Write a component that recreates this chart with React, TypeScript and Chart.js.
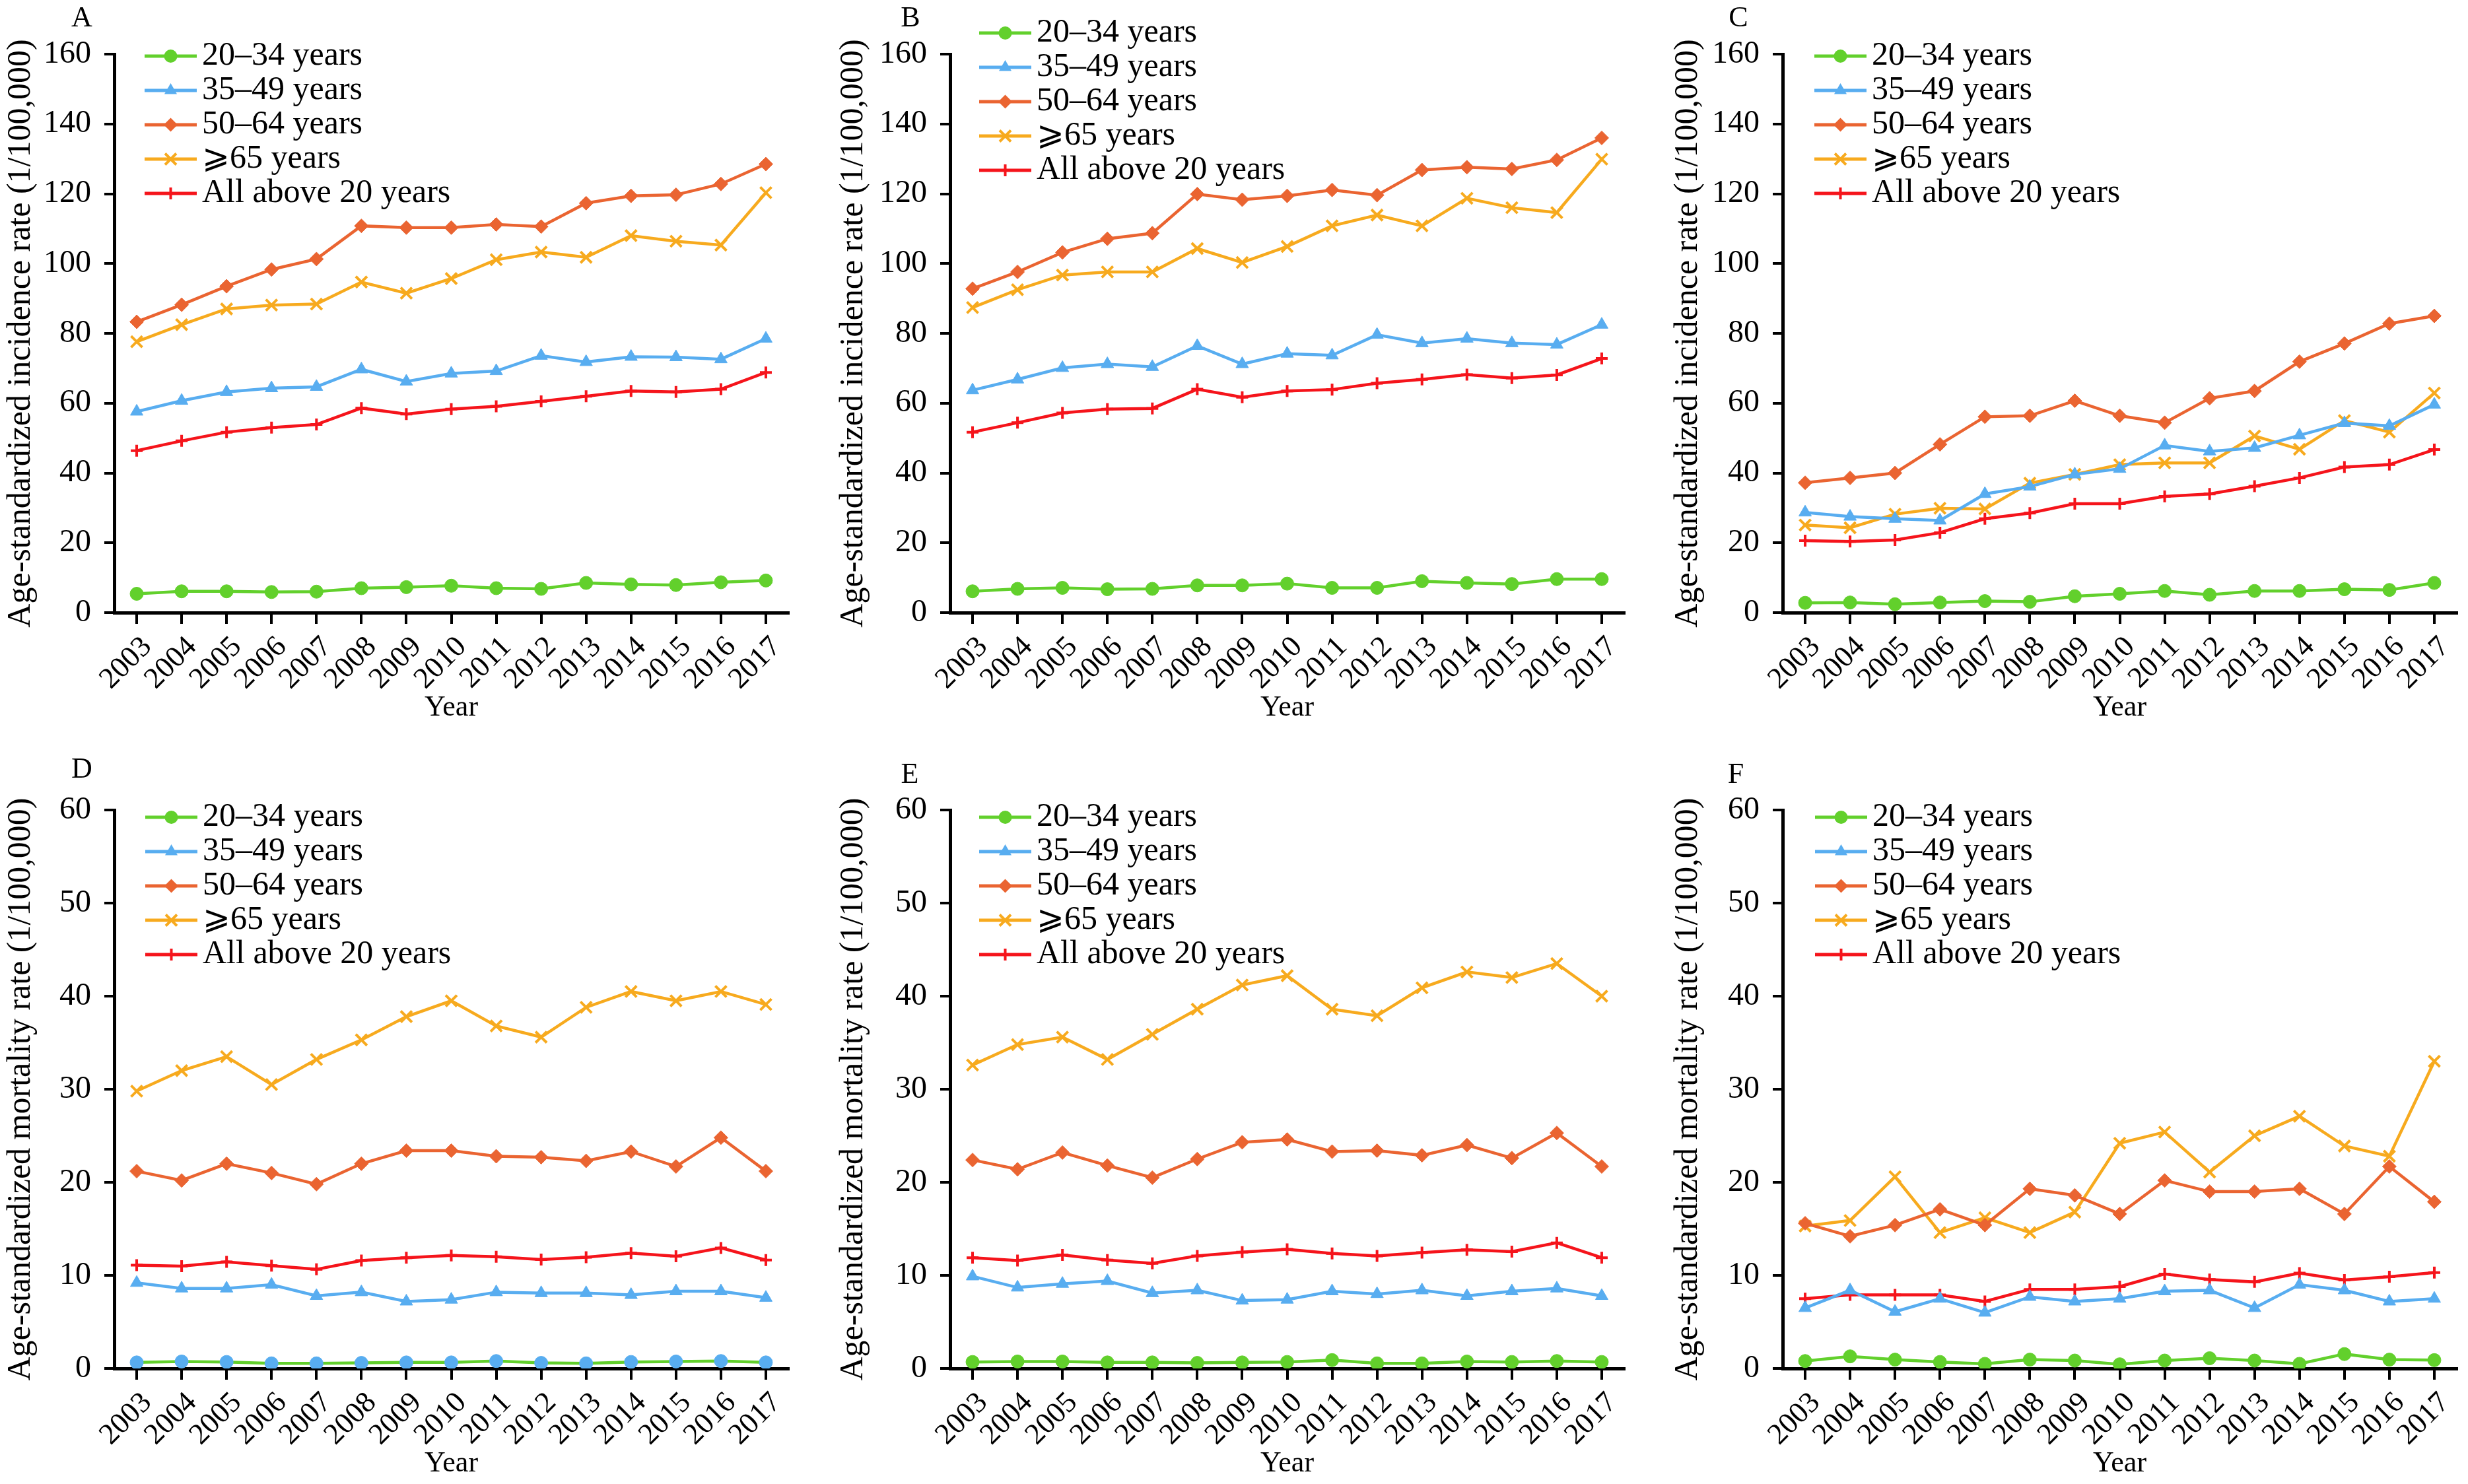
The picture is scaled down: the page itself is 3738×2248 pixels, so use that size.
import React, { useEffect, useRef } from 'react';
import { Chart, registerables } from 'chart.js';

Chart.register(...registerables);

const FONT = "'Liberation Serif', 'Times New Roman', serif";

const years = ['2003', '2004', '2005', '2006', '2007', '2008', '2009', '2010', '2011', '2012', '2013', '2014', '2015', '2016', '2017'];
const seriesNames = ['20–34 years', '35–49 years', '50–64 years', '⩾65 years', 'All above 20 years'];
const incidenceTitle = 'Age-standardized incidence rate (1/100,000)';
const mortalityTitle = 'Age-standardized mortality rate (1/100,000)';
const xTitle = 'Year';

// Panel A – incidence
const A_20_34 = [5.4, 6.1, 6.1, 5.9, 6.0, 7.0, 7.3, 7.7, 7.0, 6.8, 8.5, 8.1, 7.9, 8.7, 9.2];
const A_35_49 = [57.6, 60.7, 63.2, 64.3, 64.7, 69.7, 66.2, 68.5, 69.2, 73.6, 71.8, 73.3, 73.2, 72.6, 78.5];
const A_50_64 = [83.3, 88.2, 93.5, 98.3, 101.3, 110.8, 110.3, 110.3, 111.2, 110.6, 117.3, 119.4, 119.7, 122.8, 128.5];
const A_65up = [77.6, 82.5, 87.0, 88.1, 88.4, 94.7, 91.5, 95.7, 101.1, 103.3, 101.8, 108.0, 106.4, 105.3, 120.3];
const A_all = [46.4, 49.2, 51.7, 53.0, 53.9, 58.6, 56.9, 58.3, 59.1, 60.5, 62.0, 63.5, 63.2, 64.0, 68.8];

// Panel B – incidence
const B_20_34 = [6.1, 6.8, 7.1, 6.7, 6.8, 7.8, 7.8, 8.3, 7.1, 7.1, 9.0, 8.5, 8.2, 9.6, 9.6];
const B_35_49 = [63.7, 66.8, 70.1, 71.2, 70.4, 76.4, 71.2, 74.2, 73.7, 79.6, 77.2, 78.5, 77.2, 76.8, 82.5];
const B_50_64 = [92.8, 97.6, 103.2, 107.1, 108.7, 119.9, 118.3, 119.4, 121.1, 119.6, 126.8, 127.6, 127.1, 129.7, 136.0];
const B_65up = [87.4, 92.5, 96.7, 97.6, 97.6, 104.3, 100.3, 104.9, 110.8, 113.9, 110.8, 118.7, 116.0, 114.6, 129.9];
const B_all = [51.7, 54.4, 57.2, 58.3, 58.5, 64.0, 61.7, 63.5, 63.9, 65.7, 66.8, 68.2, 67.2, 68.1, 72.8];

// Panel C – incidence
const C_20_34 = [2.8, 2.9, 2.4, 2.9, 3.3, 3.1, 4.7, 5.4, 6.2, 5.1, 6.2, 6.2, 6.7, 6.5, 8.5];
const C_35_49 = [28.7, 27.5, 26.9, 26.4, 34.0, 36.1, 39.6, 41.2, 47.9, 46.2, 47.2, 50.8, 54.3, 53.5, 59.6];
const C_50_64 = [37.2, 38.6, 40.0, 48.2, 56.1, 56.4, 60.7, 56.4, 54.4, 61.4, 63.5, 71.9, 77.1, 82.8, 85.0];
const C_65up = [25.1, 24.3, 28.2, 29.9, 29.7, 37.1, 39.6, 42.4, 42.9, 42.9, 50.6, 46.8, 55.0, 51.7, 62.9];
const C_all = [20.6, 20.4, 20.8, 22.9, 26.9, 28.5, 31.2, 31.2, 33.3, 34.0, 36.2, 38.6, 41.7, 42.4, 46.7];

// Panel D – mortality
const D_20_34 = [0.65, 0.75, 0.7, 0.55, 0.55, 0.6, 0.65, 0.65, 0.8, 0.6, 0.55, 0.7, 0.75, 0.8, 0.65];
const D_35_49 = [9.2, 8.6, 8.6, 9.0, 7.8, 8.2, 7.2, 7.4, 8.2, 8.1, 8.1, 7.9, 8.3, 8.3, 7.6];
const D_50_64 = [21.2, 20.2, 22.0, 21.0, 19.8, 22.0, 23.4, 23.4, 22.8, 22.7, 22.3, 23.3, 21.7, 24.8, 21.2];
const D_65up = [29.8, 32.0, 33.5, 30.5, 33.2, 35.3, 37.8, 39.5, 36.8, 35.6, 38.8, 40.5, 39.5, 40.5, 39.1];
const D_all = [11.1, 11.0, 11.45, 11.05, 10.65, 11.6, 11.9, 12.15, 12.0, 11.7, 11.95, 12.4, 12.05, 12.95, 11.65];

// Panel E – mortality
const E_20_34 = [0.7, 0.75, 0.75, 0.65, 0.65, 0.6, 0.65, 0.7, 0.9, 0.55, 0.55, 0.75, 0.7, 0.8, 0.7];
const E_35_49 = [9.9, 8.7, 9.1, 9.4, 8.1, 8.4, 7.3, 7.4, 8.3, 8.0, 8.4, 7.8, 8.3, 8.6, 7.8];
const E_50_64 = [22.4, 21.4, 23.2, 21.8, 20.5, 22.5, 24.3, 24.6, 23.3, 23.4, 22.9, 24.0, 22.6, 25.3, 21.7];
const E_65up = [32.6, 34.8, 35.6, 33.2, 35.9, 38.6, 41.2, 42.2, 38.6, 37.9, 40.9, 42.6, 42.0, 43.5, 40.0];
const E_all = [11.9, 11.6, 12.2, 11.65, 11.3, 12.1, 12.5, 12.8, 12.35, 12.1, 12.45, 12.75, 12.55, 13.5, 11.9];

// Panel F – mortality
const F_20_34 = [0.8, 1.3, 0.95, 0.7, 0.5, 0.95, 0.85, 0.45, 0.85, 1.1, 0.85, 0.5, 1.55, 0.95, 0.9];
const F_35_49 = [6.5, 8.4, 6.1, 7.5, 6.0, 7.7, 7.2, 7.5, 8.3, 8.4, 6.5, 9.0, 8.4, 7.2, 7.5];
const F_50_64 = [15.6, 14.2, 15.4, 17.1, 15.4, 19.3, 18.6, 16.6, 20.2, 19.0, 19.0, 19.3, 16.6, 21.7, 17.9];
const F_65up = [15.3, 15.9, 20.6, 14.6, 16.2, 14.6, 16.8, 24.2, 25.4, 21.1, 25.0, 27.1, 23.9, 22.8, 33.0];
const F_all = [7.5, 7.9, 7.9, 7.9, 7.2, 8.5, 8.5, 8.8, 10.15, 9.55, 9.3, 10.25, 9.5, 9.85, 10.3];

const COLORS = ['#62d02c', '#58adf0', '#ea6431', '#f7aa1e', '#f5141b'];
const STYLES = ['circle', 'triangle', 'rectRot', 'crossRot', 'cross'];
const RADII = [10, 11, 10.5, 12, 9];

type Panel = {
  letter: string;
  left: number;
  top: number;
  max: number;
  step: number;
  yTitle: string;
  series: number[][];
  legendX: number;
  legendY: number;
  letterX: number;
  letterY: number;
  titlePad: number;
  youngMarker?: string;
};

const CANVAS_W = 1210;
const CANVAS_H = 1103;

const panels: Panel[] = [
  { letter: 'A', left: 0, top: 0, max: 160, step: 20, yTitle: incidenceTitle, series: [A_20_34, A_35_49, A_50_64, A_65up, A_all], legendX: 217, legendY: 58, letterX: 124, letterY: 28, titlePad: 7 },
  { letter: 'B', left: 1266, top: 0, max: 160, step: 20, yTitle: incidenceTitle, series: [B_20_34, B_35_49, B_50_64, B_65up, B_all], legendX: 215, legendY: 23, letterX: 113, letterY: 28, titlePad: 2 },
  { letter: 'C', left: 2527, top: 0, max: 160, step: 20, yTitle: incidenceTitle, series: [C_20_34, C_35_49, C_50_64, C_65up, C_all], legendX: 219, legendY: 58, letterX: 106, letterY: 28, titlePad: 5 },
  { letter: 'D', left: 0, top: 1145, max: 60, step: 10, yTitle: mortalityTitle, series: [D_20_34, D_35_49, D_50_64, D_65up, D_all], legendX: 218, legendY: 66, letterX: 124, letterY: 21, titlePad: 7, youngMarker: '#58adf0' },
  { letter: 'E', left: 1266, top: 1145, max: 60, step: 10, yTitle: mortalityTitle, series: [E_20_34, E_35_49, E_50_64, E_65up, E_all], legendX: 215, legendY: 66, letterX: 112, letterY: 29, titlePad: 2 },
  { letter: 'F', left: 2527, top: 1145, max: 60, step: 10, yTitle: mortalityTitle, series: [F_20_34, F_35_49, F_50_64, F_65up, F_all], legendX: 220, legendY: 66, letterX: 102, letterY: 29, titlePad: 5 },
];

function drawMarker(g: CanvasRenderingContext2D, style: string, cx: number, cy: number, r: number, color: string) {
  g.save();
  g.fillStyle = color;
  g.strokeStyle = color;
  g.beginPath();
  if (style === 'circle') {
    g.arc(cx, cy, r, 0, Math.PI * 2);
    g.fill();
  } else if (style === 'triangle') {
    g.moveTo(cx, cy - r);
    g.lineTo(cx + 0.866 * r, cy + 0.5 * r);
    g.lineTo(cx - 0.866 * r, cy + 0.5 * r);
    g.closePath();
    g.fill();
  } else if (style === 'rectRot') {
    g.moveTo(cx - r, cy);
    g.lineTo(cx, cy - r);
    g.lineTo(cx + r, cy);
    g.lineTo(cx, cy + r);
    g.closePath();
    g.fill();
  } else if (style === 'crossRot') {
    const d = r * Math.SQRT1_2;
    g.lineWidth = 4;
    g.moveTo(cx - d, cy - d);
    g.lineTo(cx + d, cy + d);
    g.moveTo(cx - d, cy + d);
    g.lineTo(cx + d, cy - d);
    g.stroke();
  } else {
    g.lineWidth = 4;
    g.moveTo(cx - r, cy);
    g.lineTo(cx + r, cy);
    g.moveTo(cx, cy - r);
    g.lineTo(cx, cy + r);
    g.stroke();
  }
  g.restore();
}

function makeIcon(i: number): HTMLCanvasElement {
  const c = document.createElement('canvas');
  c.width = 96;
  c.height = 30;
  const g = c.getContext('2d') as CanvasRenderingContext2D;
  g.strokeStyle = COLORS[i];
  g.lineWidth = 5;
  g.beginPath();
  g.moveTo(17, 15);
  g.lineTo(96, 15);
  g.stroke();
  drawMarker(g, STYLES[i], 56.5, 15, RADII[i], COLORS[i]);
  return c;
}

const legendPosPlugin = {
  id: 'legendPos',
  beforeDraw(chart: any, _args: any, opts: any) {
    const lg = chart.legend;
    if (!lg) return;
    const w = lg.width;
    const h = lg.height;
    lg.left = opts.x;
    lg.top = opts.y;
    lg.right = opts.x + w;
    lg.bottom = opts.y + h;
  },
};

const letterPlugin = {
  id: 'panelLetter',
  afterDraw(chart: any, _args: any, opts: any) {
    const ctx = chart.ctx;
    ctx.save();
    ctx.font = `44px ${FONT}`;
    ctx.fillStyle = '#000';
    ctx.textAlign = 'center';
    ctx.textBaseline = 'middle';
    ctx.fillText(opts.text, opts.x, opts.y);
    ctx.restore();
  },
};

function PanelChart({ p }: { p: Panel }) {
  const ref = useRef<HTMLCanvasElement | null>(null);
  useEffect(() => {
    if (!ref.current) return;
    const icons = [0, 1, 2, 3, 4].map(makeIcon);
    const datasets = p.series.map((vals, i) => {
      const markerColor = i === 0 && p.youngMarker ? p.youngMarker : COLORS[i];
      const isCross = STYLES[i] === 'crossRot' || STYLES[i] === 'cross';
      return {
        label: seriesNames[i],
        data: vals,
        borderColor: COLORS[i],
        backgroundColor: COLORS[i],
        borderWidth: 4.5,
        pointStyle: STYLES[i],
        pointRadius: RADII[i],
        pointHoverRadius: RADII[i],
        pointBackgroundColor: markerColor,
        pointBorderColor: markerColor,
        pointBorderWidth: isCross ? 4 : 1,
        tension: 0,
        fill: false,
      };
    });
    const chart = new Chart(ref.current, {
      type: 'line',
      data: { labels: years, datasets },
      plugins: [legendPosPlugin, letterPlugin],
      options: {
        animation: false,
        responsive: false,
        devicePixelRatio: 1,
        events: [],
        layout: { padding: { top: 82, right: 6, bottom: 0, left: 0 } },
        plugins: {
          tooltip: { enabled: false },
          legend: {
            display: true,
            position: 'chartArea',
            align: 'start',
            labels: {
              usePointStyle: true,
              pointStyleWidth: 62,
              padding: 2,
              color: '#000',
              font: { size: 50, family: FONT },
              generateLabels: () =>
                seriesNames.map((name, i) => ({
                  text: name,
                  pointStyle: icons[i],
                  fillStyle: COLORS[i],
                  strokeStyle: COLORS[i],
                  fontColor: '#000',
                  lineWidth: 0,
                  hidden: false,
                  datasetIndex: i,
                })),
            },
          },
          legendPos: { x: p.legendX, y: p.legendY },
          panelLetter: { text: p.letter, x: p.letterX, y: p.letterY },
        } as any,
        scales: {
          x: {
            type: 'category',
            offset: true,
            grid: { display: true, drawOnChartArea: false, offset: false, tickLength: 17, lineWidth: 4, color: '#000', tickColor: '#000' },
            border: { display: true, color: '#000', width: 5 },
            ticks: { autoSkip: false, minRotation: 45, maxRotation: 45, padding: 9, labelOffset: 16, color: '#000', font: { size: 45, family: FONT } },
            title: { display: true, text: xTitle, color: '#000', font: { size: 44, family: FONT, lineHeight: 1 }, padding: { top: 0, bottom: 9 } },
            afterFit: (s: any) => {
              s.height = 175;
              s.paddingLeft = 0;
              s.paddingRight = 0;
            },
          },
          y: {
            min: 0,
            max: p.max,
            ticks: { stepSize: p.step, padding: 20, color: '#000', font: { size: 48, family: FONT } },
            grid: { display: true, drawOnChartArea: false, tickLength: 15, lineWidth: 4, color: '#000', tickColor: '#000' },
            border: { display: true, color: '#000', width: 5 },
            title: { display: true, text: p.yTitle, color: '#000', font: { size: 50, family: FONT, lineHeight: 1 }, padding: { top: p.titlePad, bottom: 0 } },
            afterFit: (s: any) => {
              s.width = 173;
              s.paddingTop = 0;
              s.paddingBottom = 0;
            },
          },
        } as any,
      },
    } as any);
    return () => chart.destroy();
  }, [p]);
  return (
    <canvas
      ref={ref}
      width={CANVAS_W}
      height={CANVAS_H}
      style={{ position: 'absolute', left: p.left, top: p.top, width: CANVAS_W, height: CANVAS_H }}
    />
  );
}

export default function App() {
  return (
    <div style={{ position: 'absolute', left: 0, top: 0, width: 3738, height: 2248, background: '#fff', overflow: 'hidden' }}>
      {panels.map((p) => (
        <PanelChart key={p.letter} p={p} />
      ))}
    </div>
  );
}
